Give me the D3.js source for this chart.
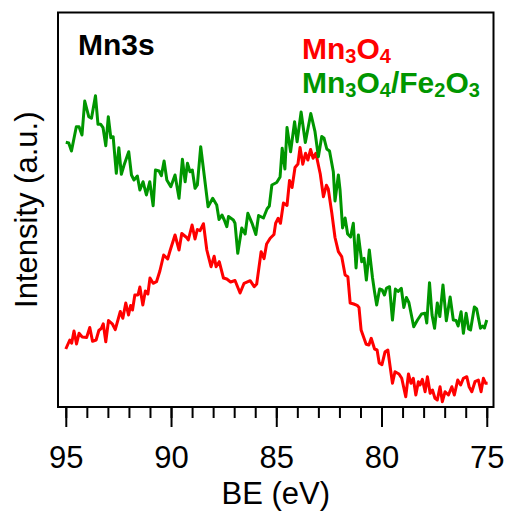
<!DOCTYPE html>
<html>
<head>
<meta charset="utf-8">
<script src="https://cdn.jsdelivr.net/npm/d3@7"></script>
<style>
  body { margin: 0; background: #fff; }
  text { font-family: "Liberation Sans", Arial, sans-serif; }
</style>
</head>
<body>
<div id="chart"></div>
<script>
// Mn3s XPS spectra, binding energy (eV) vs intensity (a.u.)
var greenBE = [95.00, 94.86, 94.73, 94.50, 94.37, 94.23, 94.10, 93.91, 93.78, 93.59,
    93.47, 93.34, 93.23, 93.10, 92.98, 92.86, 92.75, 92.60, 92.48, 92.36,
    92.23, 92.01, 91.88, 91.76, 91.60, 91.48, 91.33, 91.17, 91.01, 90.85,
    90.74, 90.57, 90.46, 90.33, 90.20, 90.01, 89.81, 89.62, 89.46, 89.33,
    89.22, 89.10, 88.99, 88.86, 88.75, 88.59, 88.24, 88.02, 87.83, 87.72,
    87.58, 87.47, 87.35, 87.27, 87.04, 86.96, 86.83, 86.64, 86.48, 86.35,
    86.15, 85.97, 85.84, 85.61, 85.44, 85.33, 85.21, 84.98, 84.82, 84.72,
    84.59, 84.49, 84.32, 84.13, 84.01, 83.82, 83.62, 83.36, 83.16, 83.00,
    82.84, 82.73, 82.60, 82.47, 82.29, 82.21, 82.05, 81.97, 81.85, 81.73,
    81.61, 81.47, 81.34, 81.21, 81.10, 80.94, 80.83, 80.72, 80.58, 80.43,
    80.33, 80.23, 80.09, 79.97, 79.86, 79.76, 79.62, 79.48, 79.34, 79.21,
    79.06, 78.94, 78.82, 78.70, 78.47, 78.29, 78.10, 77.93, 77.85, 77.72,
    77.60, 77.48, 77.35, 77.23, 77.08, 76.92, 76.74, 76.59, 76.46, 76.36,
    76.22, 76.11, 75.98, 75.86, 75.77, 75.59, 75.48, 75.30, 75.19, 75.11,
    75.00];
var greenInt = [264.7, 264, 256, 280.3, 280.3, 272, 306, 290.3, 288.7, 311.3,
    282.7, 282.7, 279.3, 261.3, 290.3, 269.3, 270.3, 233.7, 259.3, 232.7,
    242, 255.3, 232, 227, 231, 217, 225.3, 212, 225.3, 201.3,
    237, 236, 231.3, 246, 227, 220.3, 232, 208.7, 247.7, 225.3,
    243.7, 235.3, 237, 218.7, 222, 260.3, 200.3, 208.7, 202, 187.5,
    192, 187, 180.3, 190.5, 187, 183.7, 153.7, 179, 173, 193.7,
    183.7, 172.5, 191.5, 189, 198, 201, 222, 224.5, 230, 258.7,
    238, 279.5, 255.3, 285.3, 265.3, 295, 264.5, 293.5, 275.3, 250.3,
    270.5, 268.7, 258, 256, 235.3, 206, 232, 217, 179, 189,
    173, 170, 183.7, 139, 172, 145.3, 148.7, 127, 157, 129.5,
    115, 102, 118, 117, 112, 119, 120.3, 87, 118, 115.5,
    118.7, 99.5, 109.5, 104.5, 80.3, 87, 93, 93.7, 84, 124.3,
    92, 78.7, 104, 90.5, 122, 86.2, 110, 87, 86.5, 81,
    95.3, 73.7, 93.7, 78, 77, 100, 98, 78.7, 81, 79,
    87];

var redBE = [95.00, 94.81, 94.72, 94.61, 94.49, 94.37, 94.22, 94.01, 93.86, 93.73,
    93.56, 93.43, 93.31, 93.22, 93.10, 92.97, 92.78, 92.65, 92.41, 92.29,
    92.15, 92.02, 91.92, 91.83, 91.72, 91.57, 91.48, 91.34, 91.22, 91.10,
    91.00, 90.85, 90.69, 90.53, 90.35, 90.16, 90.05, 89.81, 89.62, 89.49,
    89.26, 89.18, 89.00, 88.86, 88.75, 88.62, 88.46, 88.30, 88.10, 87.95,
    87.86, 87.71, 87.51, 87.35, 87.17, 86.96, 86.72, 86.53, 86.24, 86.05,
    85.93, 85.72, 85.58, 85.46, 85.29, 85.11, 85.03, 84.91, 84.80, 84.66,
    84.49, 84.37, 84.25, 84.11, 83.97, 83.87, 83.74, 83.61, 83.50, 83.37,
    83.25, 83.12, 82.91, 82.76, 82.62, 82.53, 82.36, 82.21, 82.05, 81.89,
    81.73, 81.60, 81.49, 81.32, 81.16, 81.07, 80.97, 80.73, 80.60, 80.49,
    80.33, 80.21, 80.11, 79.98, 79.83, 79.70, 79.59, 79.48, 79.36, 79.17,
    79.04, 78.85, 78.72, 78.60, 78.49, 78.37, 78.25, 78.17, 78.06, 77.93,
    77.82, 77.69, 77.58, 77.46, 77.35, 77.22, 77.11, 76.98, 76.82, 76.66,
    76.54, 76.38, 76.24, 76.11, 75.95, 75.84, 75.71, 75.56, 75.40, 75.27,
    75.16, 75.05, 74.96];
var redInt = [58, 67, 63.7, 76, 63, 73.7, 70, 69.5, 79.5, 65.7,
    67, 76.5, 78.7, 83.2, 65.3, 86.5, 82.8, 77.4, 95.5, 88.7,
    104, 92, 101.5, 97, 112, 112, 120, 102, 116, 113,
    129, 123.7, 125.3, 136, 152, 148, 156, 172, 157, 173.5,
    169.5, 167, 182, 168, 177.5, 176.3, 183.3, 157, 140.3, 150.7,
    140.3, 145.3, 129, 128, 125, 126.5, 114, 123.7, 126.3, 120.3,
    123, 155.3, 148.4, 163, 168.7, 172.5, 183.7, 188.7, 183.7, 204,
    201.5, 226.5, 219.5, 239.5, 243, 259.5, 242.8, 253.7, 247, 257.5,
    248.7, 253.7, 233, 210.3, 221.7, 218, 193.7, 169.5, 155.3, 150.3,
    132, 130.3, 104, 103, 101.7, 99.5, 77, 62.8, 62, 68.7,
    58, 57, 44, 42.3, 55.3, 57, 40.3, 23.7, 35.3, 33,
    28.7, 10.3, 33, 23.7, 28.7, 12, 25.3, 22, 27.7, 15.3,
    30.3, 13.7, 17, 8.7, 7, 20.3, 5.3, 15.3, 12, 20.3,
    12, 27, 22, 28.7, 30.3, 20.3, 15.3, 25.3, 27, 15.3,
    28.7, 23.7, 23.7];

var majorTicks = [95, 90, 85, 80, 75];
var minorTicks = d3.range(75, 96, 1);

var redColor = "#ff0000",
    greenColor = "#009600";

var width = 506, height = 513;
var margin = {top: 12.5, right: 12.5, bottom: 106, left: 58};
var plotW = width - margin.left - margin.right,
    plotH = height - margin.top - margin.bottom;

var svg = d3.select("#chart").append("svg")
    .attr("width", width)
    .attr("height", height);

var g = svg.append("g")
    .attr("transform", "translate(" + margin.left + "," + margin.top + ")");

// binding energy axis runs high -> low
var x = d3.scaleLinear().domain([95.37, 74.68]).range([0, plotW]);
var y = d3.scaleLinear().domain([0, 394.5]).range([plotH, 0]);

function toPoints(be, val) {
    return be.map(function (d, i) { return {be: d, v: val[i]}; });
}

var line = d3.line()
    .x(function (d) { return x(d.be); })
    .y(function (d) { return y(d.v); });

g.append("path")
    .attr("d", line(toPoints(redBE, redInt)))
    .attr("fill", "none")
    .attr("stroke", redColor)
    .attr("stroke-width", 3)
    .attr("stroke-linejoin", "round");

g.append("path")
    .attr("d", line(toPoints(greenBE, greenInt)))
    .attr("fill", "none")
    .attr("stroke", greenColor)
    .attr("stroke-width", 3)
    .attr("stroke-linejoin", "round");

// frame
g.append("rect")
    .attr("x", 0).attr("y", 0)
    .attr("width", plotW).attr("height", plotH)
    .attr("fill", "none")
    .attr("stroke", "#000")
    .attr("stroke-width", 2);

// minor ticks
var minorAxis = g.append("g")
    .attr("transform", "translate(0," + plotH + ")")
    .call(d3.axisBottom(x).tickValues(minorTicks).tickSize(11).tickSizeOuter(0).tickFormat(""));
minorAxis.select(".domain").remove();
minorAxis.selectAll("line").attr("stroke-width", 2);

// major ticks + labels
var majorAxis = g.append("g")
    .attr("transform", "translate(0," + plotH + ")")
    .call(d3.axisBottom(x).tickValues(majorTicks).tickSize(20).tickSizeOuter(0).tickPadding(0).tickFormat(d3.format("d")));
majorAxis.select(".domain").remove();
majorAxis.selectAll("line").attr("stroke-width", 2);
majorAxis.selectAll("text")
    .attr("y", 61)
    .attr("dy", 0)
    .style("font-size", "31px")
    .style("font-family", "'Liberation Sans', Arial, sans-serif")
    .attr("fill", "#000");

// axis titles
svg.append("text")
    .attr("x", margin.left + plotW / 2)
    .attr("y", 504)
    .attr("text-anchor", "middle")
    .style("font-size", "31px")
    .text("BE (eV)");

svg.append("text")
    .attr("transform", "translate(37," + (margin.top + plotH / 2) + ") rotate(-90)")
    .attr("text-anchor", "middle")
    .style("font-size", "31px")
    .text("Intensity (a.u.)");

// labels inside the plot
svg.append("text")
    .attr("x", 78)
    .attr("y", 55)
    .style("font-size", "30px")
    .style("font-weight", "bold")
    .text("Mn3s");

// digits become subscripts, following letters come back up
function chemLabel(parts, xPos, yPos, color) {
    var t = svg.append("text")
        .attr("x", xPos)
        .attr("y", yPos)
        .attr("fill", color)
        .style("font-size", "30px")
        .style("font-weight", "bold");
    var shifted = false;
    parts.forEach(function (p) {
        var sub = /^\d$/.test(p);
        var dy = 0;
        if (sub && !shifted) { dy = 4; shifted = true; }
        else if (!sub && shifted) { dy = -4; shifted = false; }
        t.append("tspan")
            .attr("dy", dy)
            .style("font-size", sub ? "20px" : "30px")
            .text(p);
    });
}

chemLabel(["Mn", "3", "O", "4"], 302, 59, redColor);
chemLabel(["Mn", "3", "O", "4", "/Fe", "2", "O", "3"], 302, 93, greenColor);
</script>
</body>
</html>
